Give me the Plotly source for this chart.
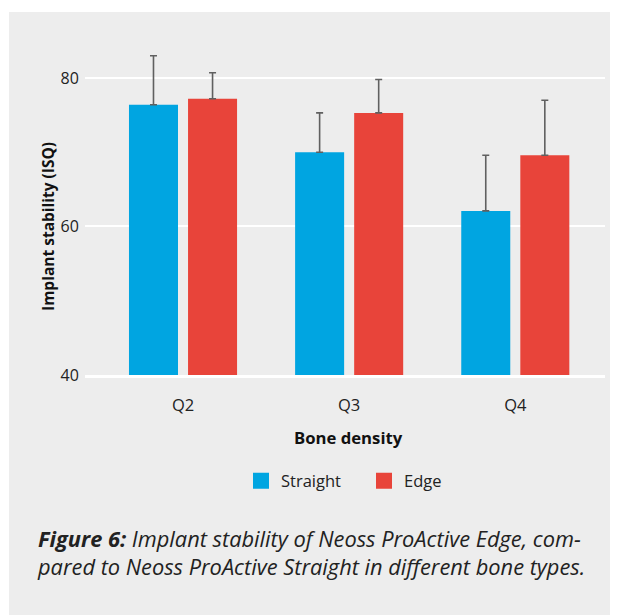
import plotly.graph_objects as go

categories = ["Q2", "Q3", "Q4"]
straight = [76.4, 70.0, 62.1]
straight_err = [6.6, 5.3, 7.5]
edge = [77.2, 75.3, 69.6]
edge_err = [3.5, 4.5, 7.4]
series_names = ["Straight", "Edge"]
y_ticks = [40, 60, 80]

BLUE = "#00a5e1"
RED = "#e8443a"
BG = "#ededed"

W, H = 618, 615
L, R, T, B = 77, 597, 18, 367
pw, ph = R - L, B - T

def px_x(x):
    return (x - L) / pw

def px_y(y):
    return (B - y) / ph

FONT = "Open Sans"

fig = go.Figure()
for name, vals, errs, col in [(series_names[0], straight, straight_err, BLUE),
                              (series_names[1], edge, edge_err, RED)]:
    fig.add_trace(go.Bar(
        x=categories, y=vals, name=name, showlegend=False,
        marker=dict(color=col, line=dict(width=0)),
        error_y=dict(type="data", array=errs, symmetric=False, arrayminus=[0] * len(errs),
                     color="#606060", thickness=1.6, width=3.5),
    ))
    fig.add_trace(go.Scatter(
        x=[None], y=[None], mode="markers", name=name, showlegend=True,
        marker=dict(symbol="square", size=16, color=col),
    ))

fig.update_layout(
    width=W, height=H,
    margin=dict(l=L, r=W - R, t=T, b=H - B, pad=0),
    paper_bgcolor="white",
    plot_bgcolor=BG,
    barmode="group",
    bargap=0.289,
    bargroupgap=0.17,
    font=dict(family=FONT, color="#222222", size=16),
    showlegend=True,
    legend=dict(orientation="h", x=px_x(233), xanchor="left", y=px_y(473), yanchor="middle",
                font=dict(size=16.5, color="#222222"), bgcolor="rgba(0,0,0,0)",
                itemsizing="trace", entrywidth=78, tracegroupgap=0),
    shapes=[dict(type="rect", xref="paper", yref="paper", layer="below",
                 x0=px_x(1), x1=px_x(640), y0=px_y(640), y1=px_y(4),
                 fillcolor=BG, line=dict(width=0))],
    annotations=[
        dict(
            xref="paper", yref="paper", x=px_x(27), y=px_y(544), xanchor="left", yanchor="middle",
            align="left", showarrow=False,
            text="<b><i>Figure 6:</i></b><i> Implant stability of Neoss ProActive Edge, com-<br>pared to Neoss ProActive Straight in different bone types.</i>",
            font=dict(family=FONT, size=21.8, color="#222222"),
        ),
        dict(
            xref="paper", yref="paper", x=px_x(340.5), y=px_y(429), xanchor="center", yanchor="middle",
            showarrow=False, text="<b>Bone density</b>",
            font=dict(family=FONT, size=16.7, color="#111111"),
        ),
        dict(
            xref="paper", yref="paper", x=px_x(40), y=px_y(219), xanchor="center", yanchor="middle",
            showarrow=False, textangle=-90, text="<b>Implant stability (ISQ)</b>",
            font=dict(family=FONT, size=15.5, color="#111111"),
        ),
    ],
)
fig.update_xaxes(
    range=[-0.59, 2.54], showgrid=False, zeroline=False,
    showline=True, linecolor="white", linewidth=2.5,
    ticks="outside", ticklen=13, tickcolor="rgba(0,0,0,0)",
    tickfont=dict(size=16.5, color="#222222"),
)
fig.update_yaxes(
    range=[40, 87.0], tickvals=y_ticks, showgrid=True, gridcolor="white", gridwidth=2.3,
    zeroline=False, showline=False,
    ticks="outside", ticklen=2, tickcolor="rgba(0,0,0,0)",
    tickfont=dict(size=16, color="#222222"),
)

fig.write_html("out.html")
